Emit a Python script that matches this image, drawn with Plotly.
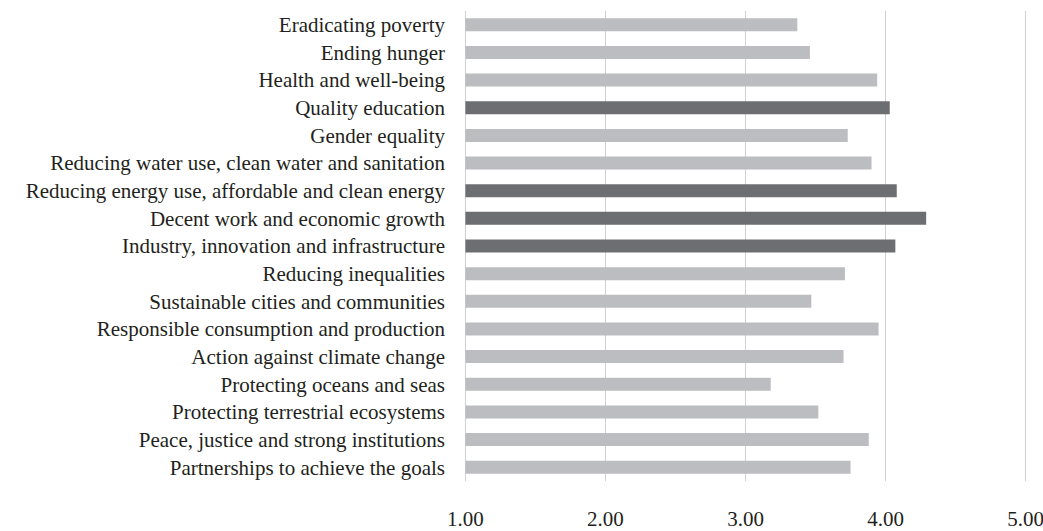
import plotly.graph_objects as go

goals = [
    "Eradicating poverty",
    "Ending hunger",
    "Health and well-being",
    "Quality education",
    "Gender equality",
    "Reducing water use, clean water and sanitation",
    "Reducing energy use, affordable and clean energy",
    "Decent work and economic growth",
    "Industry, innovation and infrastructure",
    "Reducing inequalities",
    "Sustainable cities and communities",
    "Responsible consumption and production",
    "Action against climate change",
    "Protecting oceans and seas",
    "Protecting terrestrial ecosystems",
    "Peace, justice and strong institutions",
    "Partnerships to achieve the goals",
]
scores = [3.37, 3.46, 3.94, 4.03, 3.73, 3.90, 4.08, 4.29, 4.07,
          3.71, 3.47, 3.95, 3.70, 3.18, 3.52, 3.88, 3.75]
highlighted = ["Quality education",
               "Reducing energy use, affordable and clean energy",
               "Decent work and economic growth",
               "Industry, innovation and infrastructure"]
tick_values = [1, 2, 3, 4, 5]

LIGHT = "#BCBDC0"
DARK = "#6D6E71"
colors = [DARK if g in highlighted else LIGHT for g in goals]

fig = go.Figure(go.Bar(
    y=goals,
    x=[s - 1 for s in scores],
    base=1,
    orientation="h",
    marker=dict(color=colors, line=dict(width=0)),
    width=0.47,
    hoverinfo="skip",
))

fig.update_layout(
    width=1043,
    height=531,
    margin=dict(l=464, r=16, t=11, b=50, autoexpand=False),
    paper_bgcolor="white",
    plot_bgcolor="white",
    showlegend=False,
    font=dict(family="Liberation Serif, Times New Roman, serif", size=21, color="#231F20"),
    xaxis=dict(
        range=[0.99, 5.01],
        tickvals=tick_values,
        tickformat=".2f",
        showgrid=True,
        gridcolor="#D0D0D0",
        gridwidth=1,
        zeroline=False,
        showline=False,
        ticks="",
        ticklabelstandoff=23,
        ticklabeloverflow="allow",
        automargin=False,
        fixedrange=True,
    ),
    yaxis=dict(
        categoryorder="array",
        categoryarray=goals[::-1],
        showgrid=False,
        zeroline=False,
        showline=False,
        ticks="",
        ticklabelstandoff=18,
        automargin=False,
        fixedrange=True,
    ),
)

fig.write_html("out.html")
